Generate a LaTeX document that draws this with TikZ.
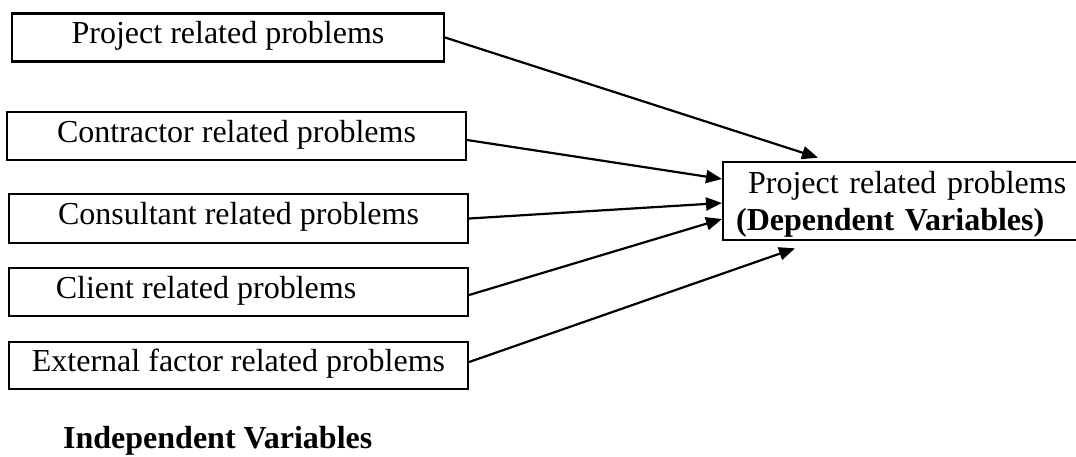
\documentclass[tikz,border=0pt]{standalone}
\usepackage{fontspec}
\setmainfont{Liberation Serif}
\usepackage{tikz}
\usetikzlibrary{arrows.meta}

\tikzset{
  bigtext/.style={font=\fontsize{32}{37}\selectfont},
  probbox/.style={bigtext, rectangle, draw=black, line width=2.2pt, minimum height=48pt, inner sep=0pt, text height=20pt, text depth=8pt},
  depbox/.style={bigtext, rectangle, draw=black, line width=2.2pt, minimum height=76pt, text width=345pt, inner xsep=13pt, align=left, anchor=west},
  link/.style={line width=2.2pt, -{Triangle[length=16pt, width=13pt]}}
}

\begin{document}
\begin{tikzpicture}[x=1pt, y=-1pt]
  \useasboundingbox (0,0) rectangle (1076,456);
  \node[probbox, minimum width=432pt] (proj) at (228,37.5) {Project related problems};
  \node[probbox, minimum width=459pt] (contr) at (236.5,136) {Contractor related problems};
  \node[probbox, minimum width=459pt, minimum height=49pt] (cons) at (238.5,218.5) {Consultant related problems};
  \node[probbox, minimum width=459pt] (client) at (238.5,292) {Client related problems\hspace*{65pt}};
  \node[probbox, minimum width=459pt, minimum height=47pt] (ext) at (238.5,365.5) {External factor related problems};
  \node[depbox] (dep) at (722,201) {\rule{0pt}{28pt}\hspace*{12pt}Project related problems\\\textbf{(Dependent Variables)}};
  \node[bigtext, anchor=base west, inner sep=0pt] (indep) at (63,448) {\textbf{Independent Variables}};
  \draw[link] (proj.east) -- ([xshift=96pt, yshift=3pt]dep.north west);
  \draw[link] ([yshift=-4pt]contr.east) -- ([yshift=22pt]dep.west);
  \draw[link] (cons.east) -- ([yshift=-2pt]dep.west);
  \draw[link] ([yshift=-3pt]client.east) -- ([yshift=-18pt]dep.west);
  \draw[link] ([yshift=3.5pt]ext.east) -- ([xshift=73pt, yshift=-7pt]dep.south west);
\end{tikzpicture}
\end{document}
